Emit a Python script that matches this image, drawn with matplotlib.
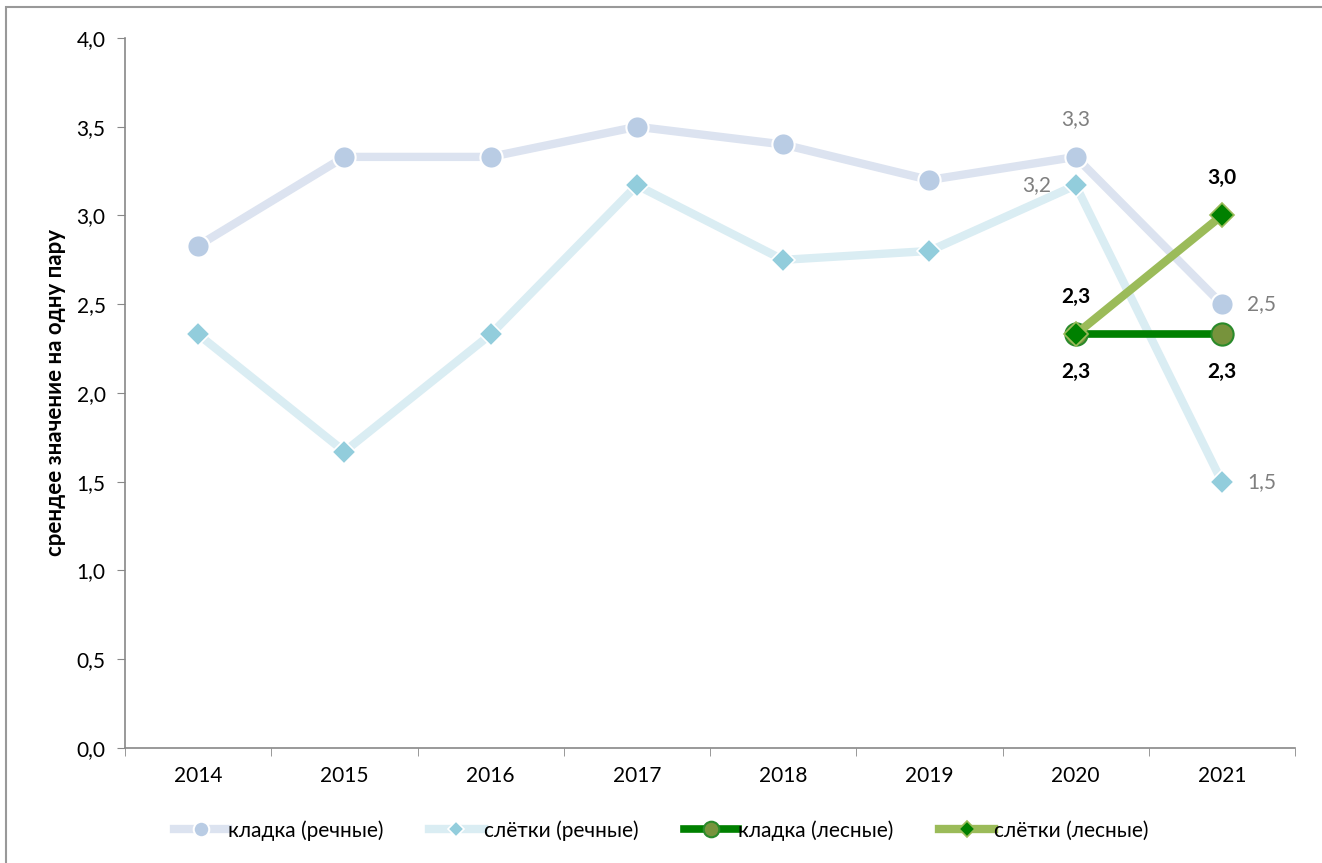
import matplotlib.pyplot as plt
from matplotlib.ticker import FuncFormatter, FixedLocator
from matplotlib.patches import Rectangle

plt.rcParams['font.family'] = ['Lato', 'DejaVu Sans']

years = ["2014", "2015", "2016", "2017", "2018", "2019", "2020", "2021"]
kladka_river = [2.83, 3.33, 3.33, 3.5, 3.4, 3.2, 3.33, 2.5]
sletki_river = [2.33, 1.67, 2.33, 3.17, 2.75, 2.8, 3.17, 1.5]
kladka_forest = [2.33, 2.33]
sletki_forest = [2.33, 3.0]
forest_years = ["2020", "2021"]


def fmt(v):
    return f"{v:.1f}".replace(".", ",")


fig = plt.figure(figsize=(13.22, 8.63), dpi=100)
ax = fig.add_axes([0.0946, 0.1333, 0.885, 0.8227])

x = list(range(len(years)))
xf = [years.index(y) for y in forest_years]

ax.plot(x, kladka_river, color="#dce3f0", lw=6, marker="o", ms=16,
        mfc="#b9cce4", mec="white", mew=1.5, label="кладка (речные)", zorder=3)
ax.plot(x, sletki_river, color="#daedf3", lw=6, marker="D", ms=12,
        mfc="#92cddc", mec="white", mew=1.2, label="слётки (речные)", zorder=3)
ax.plot(xf, kladka_forest, color="#008000", lw=5.5, marker="o", ms=16,
        mfc="#77933c", mec="#2a8a2a", mew=1.5, label="кладка (лесные)", zorder=4)
ax.plot(xf, sletki_forest, color="#9bbb59", lw=6, marker="D", ms=12,
        mfc="#008000", mec="#9bbb59", mew=1.2, label="слётки (лесные)", zorder=5)

gray = "#7f7f7f"
fs = 15
# river labels (last two points)
ax.annotate(fmt(kladka_river[6]), (x[6], kladka_river[6]), xytext=(0, 20),
            textcoords="offset points", ha="center", va="bottom", color=gray, fontsize=fs)
ax.annotate(fmt(kladka_river[7]), (x[7], kladka_river[7]), xytext=(18, 0),
            textcoords="offset points", ha="left", va="center", color=gray, fontsize=fs)
ax.annotate(fmt(sletki_river[6]), (x[6], sletki_river[6]), xytext=(-18, 0),
            textcoords="offset points", ha="right", va="center", color=gray, fontsize=fs)
ax.annotate(fmt(sletki_river[7]), (x[7], sletki_river[7]), xytext=(18, 0),
            textcoords="offset points", ha="left", va="center", color=gray, fontsize=fs)
# forest labels
for xi, v in zip(xf, kladka_forest):
    ax.annotate(fmt(v), (xi, v), xytext=(0, -20), textcoords="offset points",
                ha="center", va="top", color="black", fontsize=fs, fontweight="bold")
for xi, v in zip(xf, sletki_forest):
    ax.annotate(fmt(v), (xi, v), xytext=(0, 20), textcoords="offset points",
                ha="center", va="bottom", color="black", fontsize=fs, fontweight="bold")

ax.set_xlim(-0.5, len(years) - 0.5)
ax.set_ylim(0, 4)
ax.set_yticks([0, 0.5, 1, 1.5, 2, 2.5, 3, 3.5, 4])
ax.yaxis.set_major_formatter(FuncFormatter(lambda v, p: fmt(v)))
ax.set_xticks(x)
ax.set_xticklabels(years)
ax.xaxis.set_minor_locator(FixedLocator([i - 0.5 for i in range(len(years) + 1)]))
ax.tick_params(axis="x", which="major", length=0, pad=13, labelsize=fs)
ax.tick_params(axis="x", which="minor", length=6, color="#888888", direction="out")
ax.tick_params(axis="y", length=6, color="#888888", labelsize=fs, pad=8)

for s in ["top", "right"]:
    ax.spines[s].set_visible(False)
for s in ["left", "bottom"]:
    ax.spines[s].set_color("#888888")
    ax.spines[s].set_linewidth(1.2)

ax.set_ylabel("срендее значение на одну пару", fontsize=16, fontweight="bold", labelpad=8)

leg = fig.legend(loc="center", bbox_to_anchor=(0.5, 0.038), ncol=4, frameon=False,
                 fontsize=15, handlelength=2.6, handletextpad=0.0, columnspacing=2.2,
                 markerscale=0.7)

fig.patches.append(Rectangle((6 / 1322, -0.1), 1.2, 1.1 - 7 / 863, transform=fig.transFigure,
                             fill=False, edgecolor="#999999", lw=1.5))

fig.savefig("out.png", dpi=100)
